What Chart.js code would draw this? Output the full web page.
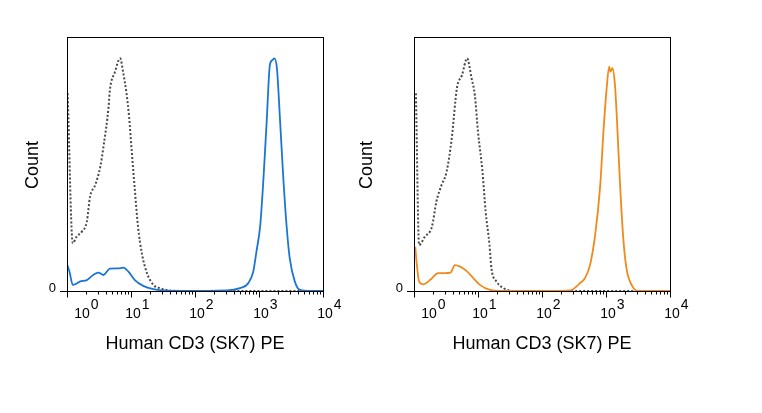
<!DOCTYPE html>
<html>
<head>
<meta charset="utf-8">
<script src="https://cdn.jsdelivr.net/npm/chart.js@4.4.1/dist/chart.umd.min.js"></script>
<style>
  html, body { margin: 0; padding: 0; background: #ffffff; }
  body { width: 762px; height: 413px; position: relative; overflow: hidden; }
  canvas { position: absolute; top: 0; }
</style>
</head>
<body>
<canvas id="left" width="381" height="413" style="left:0px"></canvas>
<canvas id="right" width="381" height="413" style="left:347px"></canvas>
<script>
// ---- data (x in decades: log10 of fluorescence, y in % of max count) ----
const xTickExponents = [0, 1, 2, 3, 4];
const yTickLabels = ["0"];
const axisTitleX = "Human CD3 (SK7) PE";
const axisTitleY = "Count";

const leftControlX = [0.01, 0.09, 0.15, 0.23, 0.31, 0.36, 0.44, 0.52, 0.57, 0.65, 0.67, 0.75, 0.83, 0.88, 0.93, 0.97, 1.01, 1.06, 1.11, 1.17, 1.25, 1.35, 1.45, 1.66, 2.08, 3.00, 4.00];
const leftControlY = [77.8, 18.8, 21.4, 23.3, 27.3, 37.1, 41.7, 48.9, 56.8, 72.6, 79.1, 86.3, 91.6, 85.7, 77.8, 68.6, 55.5, 39.8, 25.3, 14.8, 7.0, 2.4, 1.1, 0.1, 0, 0, 0];

const leftStainX = [0.005, 0.04, 0.09, 0.14, 0.20, 0.31, 0.41, 0.49, 0.57, 0.67, 0.80, 0.88, 0.96, 1.06, 1.19, 1.35, 1.56, 1.77, 2.50, 2.70, 2.83, 2.91, 2.96, 3.02, 3.07, 3.12, 3.17, 3.21, 3.24, 3.28, 3.33, 3.38, 3.43, 3.48, 3.56, 3.64, 3.80, 4.00];
const leftStainY = [10.2, 7.5, 2.4, 2.8, 3.7, 4.3, 6.3, 7.2, 6.3, 8.8, 8.9, 9.2, 7.6, 4.3, 2.0, 0.7, 0.1, 0, 0.2, 1.1, 3.0, 7.6, 15.5, 26.0, 44.4, 66.7, 89.0, 90.9, 91.6, 87.7, 66.7, 44.4, 26.0, 12.9, 3.7, 0.4, 0, 0];

const rightControlX = [0.03, 0.08, 0.17, 0.28, 0.35, 0.43, 0.51, 0.59, 0.67, 0.75, 0.83, 0.90, 0.95, 1.00, 1.07, 1.12, 1.18, 1.21, 1.29, 1.40, 1.55, 3.00, 4.00];
const rightControlY = [77.8, 18.1, 21.4, 25.3, 35.2, 41.7, 47.0, 60.1, 79.8, 85.0, 91.6, 83.7, 77.2, 62.7, 47.0, 31.2, 18.1, 8.9, 3.7, 1.1, 0, 0, 0];

const rightStainX = [0.02, 0.04, 0.08, 0.15, 0.25, 0.38, 0.48, 0.57, 0.64, 0.72, 0.82, 0.93, 1.03, 1.19, 1.40, 2.28, 2.44, 2.59, 2.67, 2.75, 2.83, 2.91, 2.96, 3.01, 3.05, 3.07, 3.10, 3.14, 3.17, 3.22, 3.27, 3.32, 3.40, 3.50, 4.00];
const rightStainY = [17.4, 11.5, 3.7, 2.6, 4.3, 7.0, 7.0, 7.2, 10.2, 9.6, 7.9, 5.0, 2.4, 0.4, 0, 0, 0.2, 3.0, 5.0, 10.2, 22.0, 41.7, 62.7, 79.8, 88.3, 86.3, 87.7, 81.1, 68.0, 41.7, 20.7, 8.9, 2.4, 0, 0];

function pts(xs, ys) { return xs.map((x, i) => ({ x: x, y: ys[i] })); }

const axesPlugin = {
  id: 'flowAxes',
  afterDraw(chart, args, opts) {
    const ctx = chart.ctx;
    const a = chart.chartArea;
    const xs = chart.scales.x;
    ctx.save();
    ctx.strokeStyle = '#000';
    ctx.fillStyle = '#000';
    ctx.lineWidth = 1;
    // box
    ctx.strokeRect(Math.round(a.left) + 0.5, Math.round(a.top) + 0.5, Math.round(a.right - a.left), Math.round(a.bottom - a.top));
    // bottom axis line extended a little to the left (y zero tick)
    const by = Math.round(a.bottom) + 0.5;
    ctx.beginPath();
    ctx.moveTo(a.left - 7, by);
    ctx.lineTo(a.right, by);
    ctx.stroke();
    // ticks
    ctx.beginPath();
    xTickExponents.forEach((e, i) => {
      const px = Math.round(xs.getPixelForValue(e)) + 0.5;
      ctx.moveTo(px, by); ctx.lineTo(px, by + 6);
      if (i < xTickExponents.length - 1) {
        for (let k = 2; k <= 9; k++) {
          const mx = Math.round(xs.getPixelForValue(e + Math.log10(k))) + 0.5;
          ctx.moveTo(mx, by); ctx.lineTo(mx, by + 3);
        }
      }
    });
    ctx.stroke();
    // tick labels 10^n
    ctx.textBaseline = 'alphabetic';
    xTickExponents.forEach((e, i) => {
      let px = xs.getPixelForValue(e) + 2;
      if (i === 0) px += 13;
      ctx.font = '14px "Liberation Sans", Arial, sans-serif';
      ctx.textAlign = 'center';
      ctx.fillText('10', px, 318);
      const w = ctx.measureText('10').width;
      ctx.textAlign = 'left';
      ctx.font = '14px "Liberation Sans", Arial, sans-serif';
      ctx.fillText(String(e), px + w / 2 + 1, 309);
    });
    // y "0" label
    ctx.font = '13px "Liberation Sans", Arial, sans-serif';
    ctx.textAlign = 'right';
    ctx.textBaseline = 'middle';
    ctx.fillText(yTickLabels[0], a.left - 11, a.bottom - 3);
    // x title
    ctx.font = '18px "Liberation Sans", Arial, sans-serif';
    ctx.textAlign = 'center';
    ctx.textBaseline = 'alphabetic';
    ctx.fillText(axisTitleX, (a.left + a.right) / 2, 348.5);
    // y title
    ctx.save();
    ctx.translate(a.left - opts.yTitleOffset, (a.top + a.bottom) / 2 + 1);
    ctx.rotate(-Math.PI / 2);
    ctx.textAlign = 'center';
    ctx.textBaseline = 'middle';
    ctx.fillText(axisTitleY, 0, 0);
    ctx.restore();
    ctx.restore();
  }
};

function makeChart(id, ctrlX, ctrlY, stX, stY, color, yTitleOffset) {
  return new Chart(document.getElementById(id), {
    type: 'line',
    data: {
      datasets: [
        {
          data: pts(stX, stY),
          borderColor: color,
          borderWidth: 1.8,
          pointRadius: 0,
          fill: false,
          cubicInterpolationMode: 'monotone'
        },
        {
          data: pts(ctrlX, ctrlY),
          borderColor: '#4a4a4a',
          borderWidth: 2,
          borderDash: [2, 2],
          pointRadius: 0,
          fill: false,
          cubicInterpolationMode: 'monotone'
        }
      ]
    },
    options: {
      responsive: false,
      animation: false,
      devicePixelRatio: 1,
      layout: { padding: { left: 67, top: 37, right: 58, bottom: 122 } },
      plugins: {
        legend: { display: false },
        tooltip: { enabled: false },
        flowAxes: { yTitleOffset: yTitleOffset }
      },
      scales: {
        x: { type: 'linear', min: 0, max: 4, display: false },
        y: { type: 'linear', min: 0, max: 100, display: false }
      }
    },
    plugins: [axesPlugin]
  });
}

makeChart('left', leftControlX, leftControlY, leftStainX, leftStainY, '#1b76d3', 34);
makeChart('right', rightControlX, rightControlY, rightStainX, rightStainY, '#ef8a1d', 47);
</script>
</body>
</html>
